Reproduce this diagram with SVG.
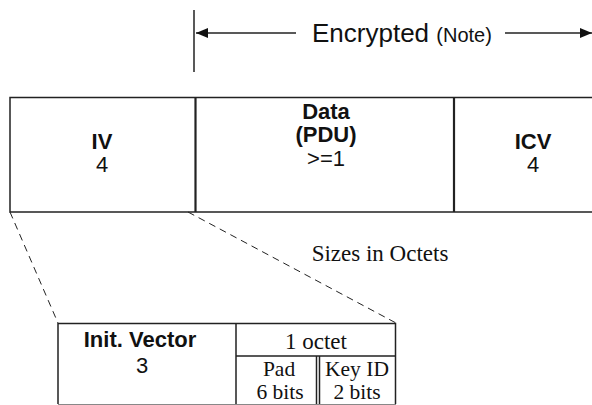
<svg xmlns="http://www.w3.org/2000/svg" width="592" height="405" viewBox="0 0 592 405">
<style>
.ln{stroke:#222;stroke-width:1.5;fill:none}
.dv{stroke:#222;stroke-width:2.2;fill:none}
.ds{stroke:#222;stroke-width:1;fill:none;stroke-dasharray:7,5}
.sb{font-family:"Liberation Sans",Arial,sans-serif;font-weight:bold;font-size:22px;fill:#111;text-anchor:middle}
.sr{font-family:"Liberation Sans",Arial,sans-serif;font-size:22px;fill:#111;text-anchor:middle}
.tr{font-family:"Liberation Serif","Times New Roman",serif;font-size:23px;fill:#111;text-anchor:middle}
.ts{font-family:"Liberation Serif","Times New Roman",serif;font-size:21.5px;fill:#111;text-anchor:middle}
</style>
<defs>
<marker id="ah" viewBox="0 0 12 10" refX="12" refY="5" markerWidth="12" markerHeight="10" markerUnits="userSpaceOnUse" orient="auto-start-reverse">
<path d="M0,0 L12,5 L0,10 Z" fill="#111"/>
</marker>
</defs>
<rect width="592" height="405" fill="#fff"/>
<g id="encrypted">
<line class="ln" x1="194" y1="10" x2="194" y2="72"/>
<line class="ln" x1="196" y1="33" x2="296" y2="33" marker-start="url(#ah)"/>
<line class="ln" x1="505" y1="33" x2="592" y2="33" marker-end="url(#ah)"/>
<text x="312" y="42" font-family="Liberation Sans,Arial,sans-serif" font-size="26" fill="#111">Encrypted <tspan font-size="20">(Note)</tspan></text>
</g>
<g id="frame">
<path class="ln" d="M600,97.5 H10 V212 H600"/>
<line class="dv" x1="195.5" y1="97" x2="195.5" y2="212"/>
<line class="dv" x1="454" y1="97" x2="454" y2="212"/>
</g>
<g id="iv">
<text class="sb" x="102" y="149">IV</text>
<text class="sr" x="102" y="172">4</text>
</g>
<g id="data">
<text class="sb" x="326" y="119">Data</text>
<text class="sb" x="326" y="142">(PDU)</text>
<text class="sr" x="326" y="166">&gt;=1</text>
</g>
<g id="icv">
<text class="sb" x="533" y="149">ICV</text>
<text class="sr" x="533" y="172">4</text>
</g>
<g id="connectors">
<line class="ds" x1="10" y1="212" x2="58" y2="323"/>
<line class="ds" x1="188" y1="212" x2="396" y2="323"/>
</g>
<text class="tr" x="380" y="261">Sizes in Octets</text>
<g id="init-vector">
<path class="ln" d="M58,404 V323.5 H236"/>
<text class="sb" x="140" y="347">Init. Vector</text>
<text class="sr" x="142" y="373">3</text>
</g>
<g id="octet">
<path class="ln" d="M236,323.5 H395.5 V404 M236,323 V404 M236,356 H395.5"/>
<line class="ln" x1="316.5" y1="356" x2="316.5" y2="404" stroke-width="1.2"/>
<line class="ln" x1="319.5" y1="356" x2="319.5" y2="404" stroke-width="1.2"/>
<text class="tr" x="316" y="349">1 octet</text>
<text class="ts" x="279" y="376">Pad</text>
<text class="ts" x="280" y="399">6 bits</text>
<text class="ts" x="357" y="376">Key ID</text>
<text class="ts" x="357" y="399">2 bits</text>
</g>
<line x1="58" y1="404.5" x2="396" y2="404.5" stroke="#888" stroke-width="1"/>
</svg>
